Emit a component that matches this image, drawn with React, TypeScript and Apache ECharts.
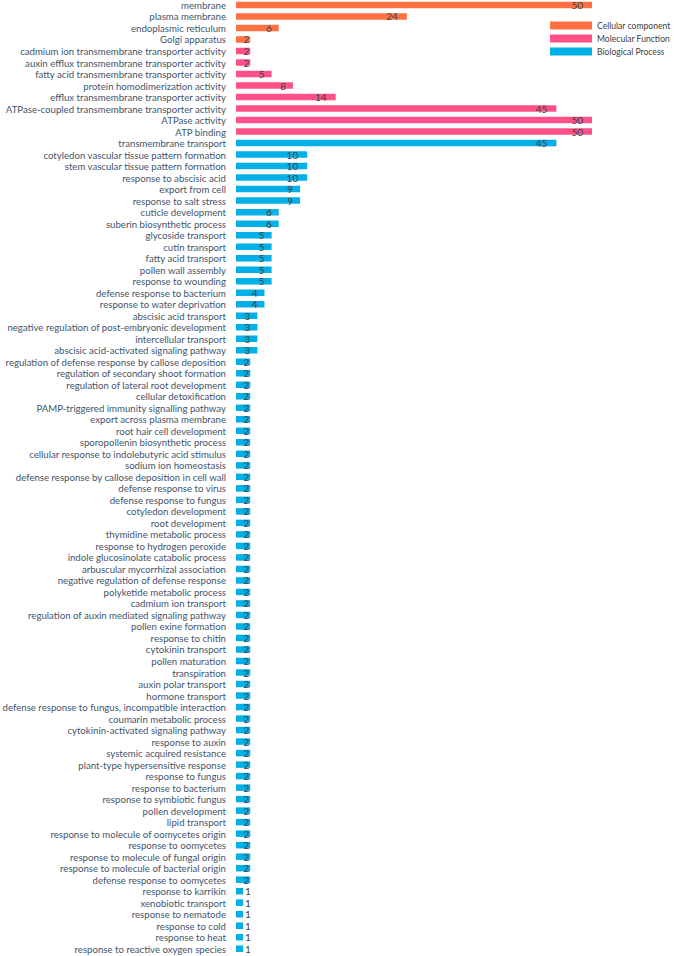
import React, { useEffect, useRef } from "react";
import * as echarts from "echarts";

const ccTerms = ["membrane", "plasma membrane", "endoplasmic reticulum", "Golgi apparatus"];
const ccValues = [50, 24, 6, 2];

const mfTerms = [
  "cadmium ion transmembrane transporter activity",
  "auxin efflux transmembrane transporter activity",
  "fatty acid transmembrane transporter activity",
  "protein homodimerization activity",
  "efflux transmembrane transporter activity",
  "ATPase-coupled transmembrane transporter activity",
  "ATPase activity",
  "ATP binding",
];
const mfValues = [2, 2, 5, 8, 14, 45, 50, 50];

const bpTerms = [
  "transmembrane transport",
  "cotyledon vascular tissue pattern formation",
  "stem vascular tissue pattern formation",
  "response to abscisic acid",
  "export from cell",
  "response to salt stress",
  "cuticle development",
  "suberin biosynthetic process",
  "glycoside transport",
  "cutin transport",
  "fatty acid transport",
  "pollen wall assembly",
  "response to wounding",
  "defense response to bacterium",
  "response to water deprivation",
  "abscisic acid transport",
  "negative regulation of post-embryonic development",
  "intercellular transport",
  "abscisic acid-activated signaling pathway",
  "regulation of defense response by callose deposition",
  "regulation of secondary shoot formation",
  "regulation of lateral root development",
  "cellular detoxification",
  "PAMP-triggered immunity signalling pathway",
  "export across plasma membrane",
  "root hair cell development",
  "sporopollenin biosynthetic process",
  "cellular response to indolebutyric acid stimulus",
  "sodium ion homeostasis",
  "defense response by callose deposition in cell wall",
  "defense response to virus",
  "defense response to fungus",
  "cotyledon development",
  "root development",
  "thymidine metabolic process",
  "response to hydrogen peroxide",
  "indole glucosinolate catabolic process",
  "arbuscular mycorrhizal association",
  "negative regulation of defense response",
  "polyketide metabolic process",
  "cadmium ion transport",
  "regulation of auxin mediated signaling pathway",
  "pollen exine formation",
  "response to chitin",
  "cytokinin transport",
  "pollen maturation",
  "transpiration",
  "auxin polar transport",
  "hormone transport",
  "defense response to fungus, incompatible interaction",
  "coumarin metabolic process",
  "cytokinin-activated signaling pathway",
  "response to auxin",
  "systemic acquired resistance",
  "plant-type hypersensitive response",
  "response to fungus",
  "response to bacterium",
  "response to symbiotic fungus",
  "pollen development",
  "lipid transport",
  "response to molecule of oomycetes origin",
  "response to oomycetes",
  "response to molecule of fungal origin",
  "response to molecule of bacterial origin",
  "defense response to oomycetes",
  "response to karrikin",
  "xenobiotic transport",
  "response to nematode",
  "response to cold",
  "response to heat",
  "response to reactive oxygen species",
];
const bpValues = [
  45, 10, 10, 10, 9, 9, 6, 6, 5, 5, 5, 5, 5, 4, 4, 3, 3, 3, 3,
  2, 2, 2, 2, 2, 2, 2, 2, 2, 2, 2, 2, 2, 2, 2, 2, 2, 2, 2, 2, 2,
  2, 2, 2, 2, 2, 2, 2, 2, 2, 2, 2, 2, 2, 2, 2, 2, 2, 2, 2, 2, 2,
  2, 2, 2, 2,
  1, 1, 1, 1, 1, 1,
];

const seriesNames = ["Cellular component", "Molecular Function", "Biological Process"];
const seriesColors = ["#FF7043", "#FF5087", "#00B0E6"];

export default function App() {
  const ref = useRef<HTMLDivElement>(null);
  useEffect(() => {
    if (!ref.current) return;
    const chart = echarts.init(ref.current, null, { renderer: "svg" });
    const categories = [...ccTerms, ...mfTerms, ...bpTerms];
    const groups = [ccValues, mfValues, bpValues];
    let offset = 0;
    const series = groups.map((vals, gi) => {
      const data: any[] = categories.map(() => "-");
      vals.forEach((v, i) => {
        let label: any;
        if (v <= 1) label = { position: "right", distance: 2 };
        else if (v <= 2) label = { position: "insideRight", distance: 1 };
        else if (v <= 9) label = { position: "insideRight", distance: 7 };
        else label = { position: "insideRight", distance: 9 };
        data[offset + i] = { value: v, label };
      });
      offset += vals.length;
      return {
        name: seriesNames[gi],
        type: "bar",
        stack: "all",
        barWidth: 6.5,
        itemStyle: { color: seriesColors[gi] },
        label: {
          show: true,
          color: "#404040",
          fontSize: 10,
          fontFamily: "Lato",
        },
        data,
      };
    });
    chart.setOption({
      animation: false,
      textStyle: { fontFamily: "Lato" },
      legend: {
        orient: "vertical",
        left: 545,
        top: 16,
        itemWidth: 42,
        itemHeight: 8,
        itemGap: 4,
        icon: "rect",
        textStyle: { fontSize: 8.6, color: "#404040", fontFamily: "Lato" },
        data: seriesNames,
      },
      grid: {
        left: 236,
        right: 82,
        top: -0.8,
        bottom: 1.5,
        containLabel: false,
        outerBoundsMode: "none",
      },
      xAxis: {
        type: "value",
        min: 0,
        max: 50,
        show: false,
      },
      yAxis: {
        type: "category",
        inverse: true,
        data: categories,
        axisLine: { show: false },
        axisTick: { show: false },
        axisLabel: {
          interval: 0,
          margin: 10,
          fontSize: 9.65,
          color: "#44546A",
          fontFamily: "Lato",
        },
      },
      series,
    });
    return () => chart.dispose();
  }, []);
  return (
    <div
      ref={ref}
      style={{ position: "fixed", left: 0, top: 0, width: 674, height: 956, background: "#fff" }}
    />
  );
}
